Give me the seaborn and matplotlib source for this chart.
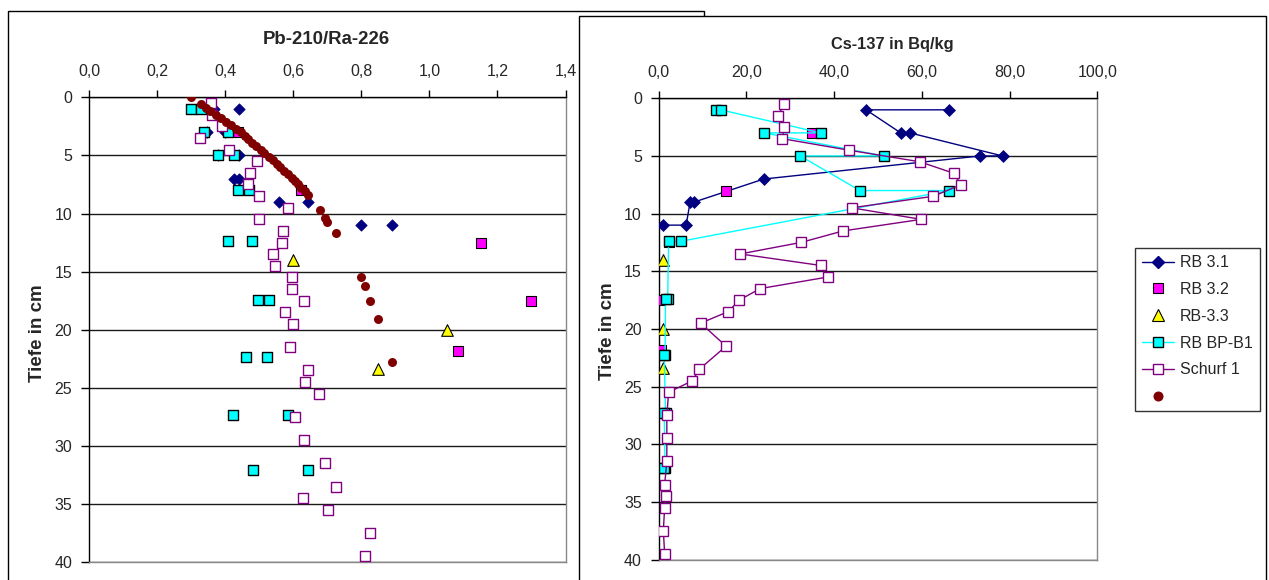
import numpy as np
import pandas as pd
import matplotlib
matplotlib.use("Agg")
import matplotlib.pyplot as plt
from matplotlib.ticker import FuncFormatter, MultipleLocator
from matplotlib.patches import Rectangle
from matplotlib.lines import Line2D
import seaborn as sns

sns.set_style("white")
plt.rcParams["font.family"] = ["Liberation Sans", "DejaVu Sans"]

# ---------------- data ----------------
# RB 3.1
rb31_depth_left = [1, 1, 3, 3, 5, 5, 7, 7, 9, 9, 11, 11]
rb31_ratio = [0.442, 0.368, 0.40, 0.348, 0.442, 0.38, 0.427, 0.442, 0.558, 0.643, 0.80, 0.89]
rb31_depth_right = [1, 1, 3, 3, 5, 5, 7, 9, 9, 11, 11]
rb31_cs = [66.3, 47.3, 55.2, 57.3, 78.4, 73.3, 24.0, 8.1, 7.2, 6.3, 1.0]

# RB 3.2
rb32_depth = [3, 8, 12.5, 17.5, 21.8]
rb32_ratio = [0.437, 0.623, 1.153, 1.298, 1.083]
rb32_cs = [35.0, 15.4, 2.5, 0.3, 0.5]

# RB-3.3
rb33_depth = [14.0, 20.0, 23.4]
rb33_ratio = [0.599, 1.053, 0.848]
rb33_cs = [1.0, 1.0, 1.0]

# RB BP-B1
bp_depth = [1, 1, 3, 3, 5, 5, 8, 8, 12.4, 12.4, 17.4, 17.4, 22.3, 22.3, 27.3, 27.3, 32.1, 32.1]
bp_ratio = [0.30, 0.33, 0.408, 0.337, 0.425, 0.378, 0.437, 0.469, 0.479, 0.408,
            0.528, 0.496, 0.522, 0.462, 0.584, 0.424, 0.643, 0.483]
bp_cs = [13.1, 14.2, 37.0, 24.1, 51.3, 32.3, 45.9, 66.3, 5.1, 2.3,
         2.1, 1.6, 1.5, 1.3, 1.6, 1.3, 1.5, 1.3]

# Schurf 1
schurf_depth = [0.5, 1.5, 2.5, 3.5, 4.5, 5.5, 6.5, 7.5, 8.5, 9.5, 10.5, 11.5, 12.5, 13.5,
                14.5, 15.5, 16.5, 17.5, 18.5, 19.5, 21.5, 23.5, 24.5, 25.5, 27.5, 29.5,
                31.5, 33.5, 34.5, 35.5, 37.5, 39.5]
schurf_ratio = [0.359, 0.362, 0.391, 0.327, 0.411, 0.494, 0.473, 0.467, 0.50, 0.584, 0.50,
                0.569, 0.566, 0.54, 0.546, 0.595, 0.595, 0.632, 0.577, 0.599, 0.591, 0.644,
                0.636, 0.677, 0.605, 0.632, 0.694, 0.726, 0.628, 0.702, 0.826, 0.81]
schurf_cs = [28.7, 27.2, 28.7, 28.2, 43.4, 59.5, 67.3, 68.9, 62.6, 44.0, 59.9, 42.1, 32.5,
             18.6, 37.0, 38.6, 23.2, 18.4, 15.9, 9.6, 15.4, 9.3, 7.7, 2.3, 1.9, 1.9, 1.9,
             1.4, 1.7, 1.4, 1.1, 1.4]

# unlabeled dark-red profile (left chart only)
dot_depth = [0.0, 0.6, 0.9, 1.2, 1.5, 1.8, 2.1, 2.4, 2.7, 3.0, 3.3, 3.6, 3.9, 4.2, 4.5,
             4.8, 5.1, 5.4, 5.7, 6.0, 6.3, 6.6, 6.9, 7.2, 7.5, 7.8, 8.1, 8.4, 9.7, 10.4,
             10.7, 11.7, 15.5, 16.2, 17.5, 19.1, 22.8]
dot_ratio = [0.30, 0.33, 0.345, 0.356, 0.373, 0.388, 0.402, 0.416, 0.432, 0.447, 0.458,
             0.468, 0.480, 0.492, 0.505, 0.515, 0.530, 0.542, 0.553, 0.562, 0.574, 0.586,
             0.596, 0.605, 0.614, 0.624, 0.634, 0.643, 0.678, 0.693, 0.700, 0.726, 0.80,
             0.81, 0.827, 0.849, 0.89]

legend_labels = ["RB 3.1", "RB 3.2", "RB-3.3", "RB BP-B1", "Schurf 1", ""]
left_title = "Pb-210/Ra-226"
right_title = "Cs-137 in Bq/kg"
y_label = "Tiefe in cm"

# ---------------- styles ----------------
NAVY = "#000080"
MAGENTA = "#FF00FF"
YELLOW = "#FFFF00"
CYAN = "#00FFFF"
PURPLE = "#800080"
DARKRED = "#800000"
TICK_FS = 11.5

W, H = 1269, 580
fig = plt.figure(figsize=(W / 100, H / 100), dpi=100)


def fx(px):
    return px / W


def fy(py):
    return 1 - py / H


# chart-object frames (right one overlaps the left one)
fig.patches.append(Rectangle((fx(8), fy(620)), fx(704) - fx(8), (620 - 11) / H,
                             transform=fig.transFigure, facecolor="white",
                             edgecolor="black", lw=1.0, zorder=-3))
fig.patches.append(Rectangle((fx(579), fy(620)), fx(1266) - fx(579), (620 - 16) / H,
                             transform=fig.transFigure, facecolor="white",
                             edgecolor="black", lw=1.0, zorder=-2))

axL = fig.add_axes([fx(89), fy(562.3), (565.5 - 89) / W, (562.3 - 97.3) / H])
axR = fig.add_axes([fx(658.5), fy(559.5), (1097.3 - 658.5) / W, (559.5 - 98.3) / H])

comma = FuncFormatter(lambda v, p: f"{v:.1f}".replace(".", ","))

for ax in (axL, axR):
    ax.set_facecolor("none")
    ax.set_ylim(40, 0)
    ax.yaxis.set_major_locator(MultipleLocator(5))
    ax.xaxis.tick_top()
    ax.xaxis.set_label_position("top")
    ax.xaxis.set_major_formatter(comma)
    ax.tick_params(axis="x", which="major", direction="out", length=5, width=1,
                   color="black", labelsize=TICK_FS, pad=8.5, top=True, bottom=False,
                   labeltop=True, labelbottom=False)
    ax.tick_params(axis="y", which="major", direction="out", length=6, width=1,
                   color="black", labelsize=TICK_FS, pad=6, left=True)
    ax.yaxis.grid(True, color="#1a1a1a", lw=1.0)
    ax.xaxis.grid(False)
    ax.set_axisbelow(True)
    ax.spines["left"].set_color("black")
    ax.spines["top"].set_color("black")
    ax.spines["right"].set_color("#888888")
    ax.spines["bottom"].set_color("#888888")
    for s in ax.spines.values():
        s.set_linewidth(1.0)

axL.set_xlim(0, 1.4)
axL.xaxis.set_major_locator(MultipleLocator(0.2))
axR.set_xlim(0, 100)
axR.xaxis.set_major_locator(MultipleLocator(20))

# ---------- left chart: markers only ----------
sns.scatterplot(x=rb31_ratio, y=rb31_depth_left, ax=axL, marker="D", s=34, color=NAVY,
                edgecolor=NAVY, linewidth=0.5, legend=False, zorder=3)
sns.scatterplot(x=rb32_ratio, y=rb32_depth, ax=axL, marker="s", s=44, color=MAGENTA,
                edgecolor="black", linewidth=0.8, legend=False, zorder=3)
sns.scatterplot(x=rb33_ratio, y=rb33_depth, ax=axL, marker="^", s=70, color=YELLOW,
                edgecolor="black", linewidth=0.8, legend=False, zorder=3)
sns.scatterplot(x=bp_ratio, y=bp_depth, ax=axL, marker="s", s=56, color=CYAN,
                edgecolor="black", linewidth=1.0, legend=False, zorder=3)
sns.scatterplot(x=schurf_ratio, y=schurf_depth, ax=axL, marker="s", s=62, color="white",
                edgecolor=PURPLE, linewidth=1.0, legend=False, zorder=3)
sns.scatterplot(x=dot_ratio, y=dot_depth, ax=axL, marker="o", s=42, color=DARKRED,
                edgecolor=DARKRED, linewidth=0, legend=False, zorder=3)

# ---------- right chart ----------
sns.lineplot(x=rb31_cs, y=rb31_depth_right, ax=axR, sort=False, estimator=None,
             color=NAVY, lw=1.0, marker="D", markersize=5.8, markerfacecolor=NAVY,
             markeredgecolor=NAVY, markeredgewidth=0.5, legend=False, zorder=3)
sns.scatterplot(x=rb32_cs, y=rb32_depth, ax=axR, marker="s", s=44, color=MAGENTA,
                edgecolor="black", linewidth=0.8, legend=False, zorder=3)
sns.scatterplot(x=rb33_cs, y=rb33_depth, ax=axR, marker="^", s=70, color=YELLOW,
                edgecolor="black", linewidth=0.8, legend=False, zorder=3)
sns.lineplot(x=bp_cs, y=bp_depth, ax=axR, sort=False, estimator=None,
             color=CYAN, lw=1.0, marker="s", markersize=7.5, markerfacecolor=CYAN,
             markeredgecolor="black", markeredgewidth=1.0, legend=False, zorder=3)
sns.lineplot(x=schurf_cs, y=schurf_depth, ax=axR, sort=False, estimator=None,
             color=PURPLE, lw=1.0, marker="s", markersize=7.8, markerfacecolor="white",
             markeredgecolor=PURPLE, markeredgewidth=1.0, legend=False, zorder=3)

for ax in (axL, axR):
    ax.set_xlabel("")
    ax.set_ylabel("")

# titles and axis titles
fig.text(fx(326), fy(40), left_title, ha="center", va="center",
         fontsize=13.4, fontweight="bold")
fig.text(fx(892), fy(44), right_title, ha="center", va="center",
         fontsize=11.8, fontweight="bold")
fig.text(fx(38), fy(333), y_label, ha="center", va="center", rotation=90,
         fontsize=13.5, fontweight="bold")
fig.text(fx(608), fy(331), y_label, ha="center", va="center", rotation=90,
         fontsize=13.5, fontweight="bold")

# legend
handles = [
    Line2D([], [], color=NAVY, lw=1.0, marker="D", markersize=5.8,
           markerfacecolor=NAVY, markeredgecolor=NAVY),
    Line2D([], [], ls="none", marker="s", markersize=6.6,
           markerfacecolor=MAGENTA, markeredgecolor="black", markeredgewidth=0.8),
    Line2D([], [], ls="none", marker="^", markersize=8.4,
           markerfacecolor=YELLOW, markeredgecolor="black", markeredgewidth=0.8),
    Line2D([], [], color=CYAN, lw=1.0, marker="s", markersize=7.5,
           markerfacecolor=CYAN, markeredgecolor="black", markeredgewidth=1.0),
    Line2D([], [], color=PURPLE, lw=1.0, marker="s", markersize=7.8,
           markerfacecolor="white", markeredgecolor=PURPLE, markeredgewidth=1.0),
    Line2D([], [], ls="none", marker="o", markersize=6.2,
           markerfacecolor=DARKRED, markeredgecolor=DARKRED),
]
leg = fig.legend(handles, legend_labels, loc="upper left",
                 bbox_to_anchor=(fx(1135), fy(248)), bbox_transform=fig.transFigure,
                 frameon=True, fancybox=False, shadow=False, edgecolor="black",
                 fontsize=TICK_FS, handlelength=2.0, handletextpad=0.35,
                 labelspacing=0.74, borderpad=0.45, borderaxespad=0.0)
leg.get_frame().set_linewidth(1.0)
leg.get_frame().set_facecolor("white")

fig.savefig("out.png", dpi=100)
